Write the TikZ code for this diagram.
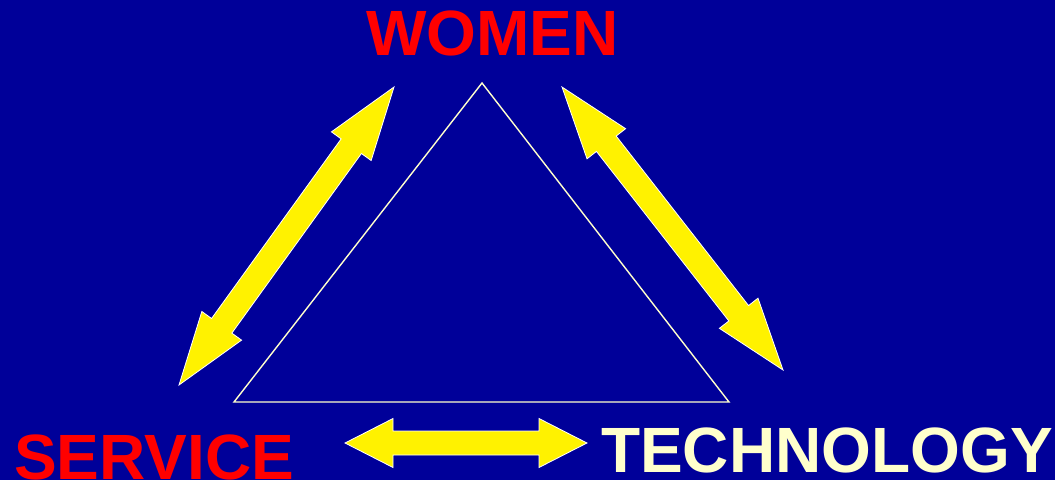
\documentclass[tikz,border=0pt]{standalone}
\usepackage{fontspec}
\setmainfont{Liberation Sans}
\usetikzlibrary{calc}
\definecolor{bgblue}{RGB}{0,0,153}
\definecolor{cream}{RGB}{255,255,204}
\definecolor{lblred}{RGB}{255,0,0}
\tikzset{
  arrowfill/.style={fill=yellow,draw=white,line width=0.8pt,line join=miter},
  lbl/.style={inner sep=0pt,anchor=base west,font=\bfseries\fontsize{64}{64}\selectfont},
  tri/.style={draw=cream,line width=1.4pt,line join=miter}
}
\newcommand\dbarrow[6]{%
  \coordinate (#1a) at ($(#2)!#4!(#3)$);
  \coordinate (#1b) at ($(#3)!#4!(#2)$);
  \draw[arrowfill] (#2) -- ($(#1a)!#5!90:(#3)$) -- ($(#1a)!#6!90:(#3)$)
    -- ($(#1b)!#6!-90:(#2)$) -- ($(#1b)!#5!-90:(#2)$) -- (#3)
    -- ($(#1b)!#5!90:(#2)$) -- ($(#1b)!#6!90:(#2)$)
    -- ($(#1a)!#6!-90:(#3)$) -- ($(#1a)!#5!-90:(#3)$) -- cycle;
}
\begin{document}
\begin{tikzpicture}[x=1pt,y=-1pt]
\useasboundingbox (0,0) rectangle (1055,480);
\fill[bgblue] (0,0) rectangle (1055,480);
% triangle
\coordinate (apex) at (482,83);
\coordinate (bl) at (234,402);
\coordinate (br) at (729,402);
\draw[tri] (apex) -- (br) -- (bl) -- cycle;
% arrows
\coordinate (lt) at (394,87);
\coordinate (lb) at (179,385);
\coordinate (rt) at (562,87);
\coordinate (rb) at (783,370);
\coordinate (hl) at (345,443);
\coordinate (hr) at (587,443);
\dbarrow{L}{lt}{lb}{73pt}{24.5pt}{12.5pt}
\dbarrow{R}{rt}{rb}{72pt}{24.5pt}{12.5pt}
\dbarrow{H}{hl}{hr}{48pt}{24.5pt}{12pt}
% labels
\node[lbl,text=lblred] (women) at (366,55) {WOMEN};
\node[lbl,text=lblred] (service) at (14,479) {SERVICE};
\node[lbl,text=cream] (tech) at (601,472) {TECHNOLOGY};
\end{tikzpicture}
\end{document}
